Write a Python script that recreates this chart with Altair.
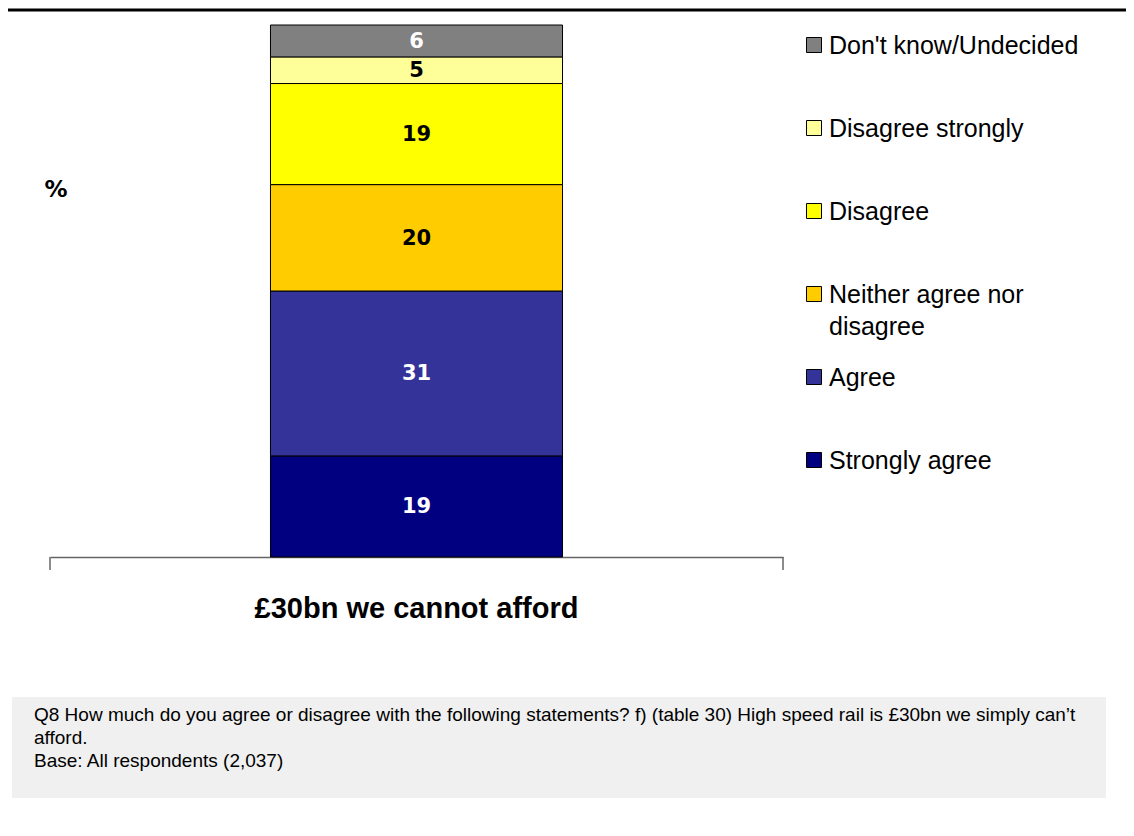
import altair as alt
import pandas as pd

STATEMENT = "£30bn we cannot afford"
CATEGORIES = ["Strongly agree", "Agree", "Neither agree nor disagree",
              "Disagree", "Disagree strongly", "Don't know/Undecided"]
VALUES = [19, 31, 20, 19, 5, 6]
COLORS = ["#000080", "#333399", "#FFCC00", "#FFFF00", "#FFFF99", "#808080"]
LEGEND_LABELS = ["Strongly agree", "Agree", "Neither agree nor\ndisagree",
                 "Disagree", "Disagree strongly", "Don't know/Undecided"]
WHITE_LABEL_CATS = ["Strongly agree", "Agree", "Don't know/Undecided"]
Y_LABEL = "%"
FOOTNOTE_LINES = [
    "Q8 How much do you agree or disagree with the following statements? f) (table 30) High speed rail is £30bn we simply can\u2019t",
    "afford.",
    "Base: All respondents (2,037)",
]

df = pd.DataFrame({
    "statement": STATEMENT,
    "category": CATEGORIES,
    "value": VALUES,
    "order": list(range(len(CATEGORIES))),
    "legend_label": LEGEND_LABELS,
})
LEGEND_ORDER = list(reversed(CATEGORIES))

W, H = 733, 532
y_scale = alt.Scale(domain=[0, 100], nice=False, zero=True)
color_scale = alt.Scale(domain=CATEGORIES, range=COLORS)
x_enc = alt.X(
    "statement:N",
    scale=alt.Scale(paddingInner=0, paddingOuter=0.755),
    axis=alt.Axis(title=None, labelAngle=0, labelFont="Liberation Sans",
                  labelFontSize=29, labelFontWeight="bold", labelColor="black",
                  labelPadding=37, labelBaseline="top", labelLimit=800,
                  ticks=False, tickSize=0, domainColor="#666666",
                  domainWidth=1.5, grid=False),
)

bars = alt.Chart(df).mark_bar(stroke="black", strokeWidth=1).encode(
    x=x_enc,
    y=alt.Y("value:Q", stack="zero", scale=y_scale, axis=None),
    color=alt.Color("category:N", scale=color_scale, legend=None),
    order=alt.Order("order:Q", sort="ascending"),
)

label_base = alt.Chart(df).transform_stack(
    stack="value", groupby=["statement"],
    sort=[alt.SortField("order", "ascending")], as_=["y0", "y1"],
).transform_calculate(mid="(datum.y0 + datum.y1) / 2")

lbl_white = label_base.transform_filter(
    alt.FieldOneOfPredicate(field="category", oneOf=WHITE_LABEL_CATS)
).mark_text(font="DejaVu Sans", fontWeight="bold", fontSize=21, color="white", dy=1).encode(
    x=x_enc, y=alt.Y("mid:Q", scale=y_scale, axis=None), text="value:Q")

lbl_black = label_base.transform_filter(
    ~alt.FieldOneOfPredicate(field="category", oneOf=WHITE_LABEL_CATS)
).mark_text(font="DejaVu Sans", fontWeight="bold", fontSize=21, color="black", dy=1).encode(
    x=x_enc, y=alt.Y("mid:Q", scale=y_scale, axis=None), text="value:Q")

leg_y = alt.Y("category:N",
              scale=alt.Scale(domain=LEGEND_ORDER, range=[20, 435], padding=0),
              axis=None)
leg_sq = alt.Chart(df).mark_square(size=225, stroke="black", strokeWidth=1,
                                   opacity=1, filled=True).encode(
    x=alt.value(764), y=leg_y,
    color=alt.Color("category:N", scale=color_scale, legend=None))
leg_tx = alt.Chart(df).mark_text(align="left", baseline="alphabetic", dy=9,
                                 font="Liberation Sans", fontSize=25,
                                 lineBreak="\n", lineHeight=32, color="black").encode(
    x=alt.value(779), y=leg_y, text="legend_label:N")

one = alt.Data(values=[{}])
tick_l = alt.Chart(one).mark_rule(color="#666666", strokeWidth=1.5).encode(
    x=alt.value(0), y=alt.value(H), y2=alt.value(H + 13))
tick_r = alt.Chart(one).mark_rule(color="#666666", strokeWidth=1.5).encode(
    x=alt.value(W), y=alt.value(H), y2=alt.value(H + 13))
top_line = alt.Chart(one).mark_rule(color="black", strokeWidth=3).encode(
    x=alt.value(-42), x2=alt.value(1076), y=alt.value(-15))
foot_box = alt.Chart(one).mark_rect(color="#F0F0F0").encode(
    x=alt.value(-38), x2=alt.value(1056), y=alt.value(672), y2=alt.value(773))
foot_txt = alt.Chart(one).mark_text(align="left", baseline="top",
                                    font="Liberation Sans", fontSize=19,
                                    lineHeight=23, lineBreak="\n", color="black").encode(
    x=alt.value(-16), y=alt.value(681), text=alt.value("\n".join(FOOTNOTE_LINES)))
pct = alt.Chart(one).mark_text(font="DejaVu Sans", fontWeight="bold",
                               fontSize=23, color="black").encode(
    x=alt.value(6), y=alt.value(165), text=alt.value(Y_LABEL))

chart = alt.layer(
    foot_box, top_line, bars, lbl_white, lbl_black, tick_l, tick_r,
    leg_sq, leg_tx, foot_txt, pct,
).resolve_scale(y="independent").properties(
    width=W, height=H,
    autosize=alt.AutoSizeParams(type="none"),
    padding={"left": 42, "top": 17, "right": 343, "bottom": 271},
).configure_view(stroke="transparent")

chart.save("out.html", embed_options={"renderer": "svg", "actions": False})
